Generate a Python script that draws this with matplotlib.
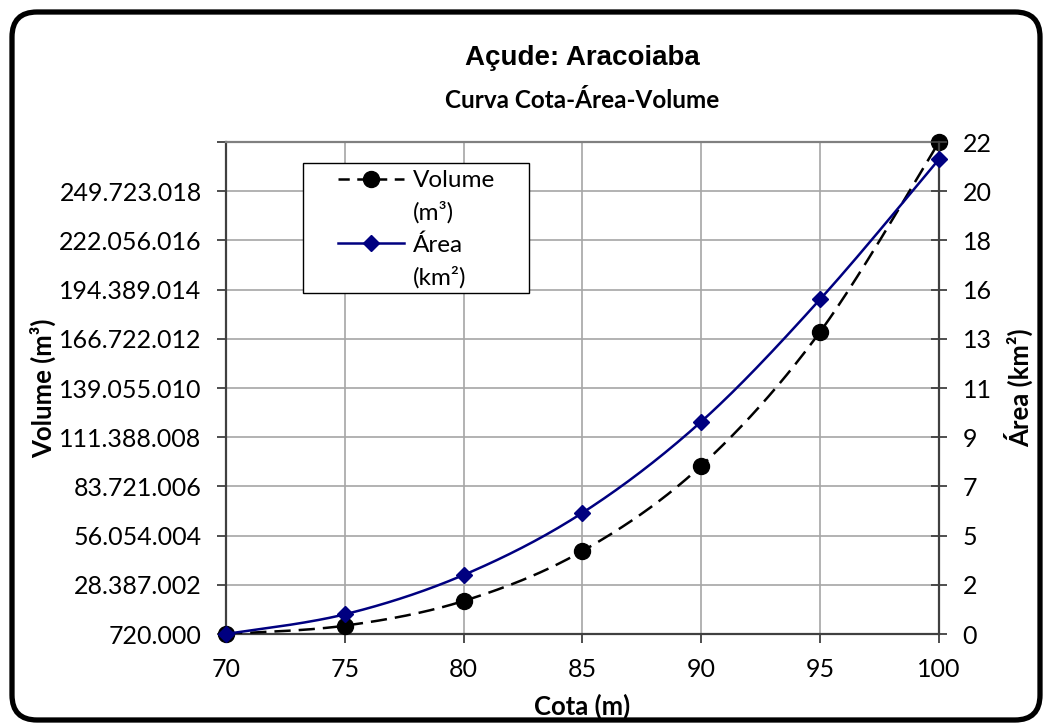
import numpy as np
import matplotlib
matplotlib.use("Agg")
import matplotlib.pyplot as plt
from matplotlib.lines import Line2D
from matplotlib.patches import FancyBboxPatch, Rectangle
from matplotlib.transforms import IdentityTransform
from matplotlib.ticker import FixedLocator, FuncFormatter

plt.rcParams['font.family'] = ['Lato', 'DejaVu Sans']

# dados da curva cota-área-volume
cota = [70, 75, 80, 85, 90, 95, 100]
volume = [720000, 5400000, 19300000, 47400000, 95400000, 170700000, 277390020]
area = [0.2, 1.08, 2.84, 5.62, 9.70, 15.17, 21.43]

vol_lim = (720000, 277390020)
area_lim = (0.2, 22.2)

W, H = 1045, 724
fig = plt.figure(figsize=(W / 100, H / 100), dpi=100)
fig.patch.set_facecolor('white')


def px(x, y):
    # pixel (origem no topo) -> fração da figura
    return x / W, 1 - y / H


def suaviza(x, y, n=40):
    # bezier suavizada passando pelos pontos (linha suavizada)
    x = np.asarray(x, float)
    y = np.asarray(y, float)
    P = np.column_stack([x, y])
    Q = np.vstack([P[0], P, P[-1]])
    t = np.linspace(0, 1, n)[:, None]
    out = []
    for i in range(len(P) - 1):
        p0, p3 = P[i], P[i + 1]
        c1 = p0 + (p3 - Q[i]) / 6
        c2 = p3 - (Q[i + 3] - p0) / 6
        seg = ((1 - t) ** 3) * p0 + 3 * ((1 - t) ** 2) * t * c1 + 3 * (1 - t) * t ** 2 * c2 + t ** 3 * p3
        out.append(seg if i == 0 else seg[1:])
    s = np.vstack(out)
    return s[:, 0], s[:, 1]


x0, y0 = px(226, 634)
x1, y1 = px(939, 142)
ax = fig.add_axes([x0, y0, x1 - x0, y1 - y0])
ax2 = ax.twinx()

axis_col = '#404040'
grid_col = '#a6a6a6'
tick_fs = 18

# volume (eixo principal)
vx, vy = suaviza(cota, volume)
ax.plot(vx, vy, color='black', lw=1.8, linestyle=(0, (6.5, 3.2)), zorder=3)
ax.plot(cota, volume, 'o', color='black', ms=11.5, zorder=4, clip_on=False)
ax.set_xlim(70, 100)
ax.set_ylim(*vol_lim)

vticks = np.linspace(vol_lim[0], vol_lim[1], 11)
ax.yaxis.set_major_locator(FixedLocator(vticks))


def fmt_vol(v, pos):
    if v > vticks[-2] + 1:
        return ''
    return f"{v:,.0f}".replace(',', '.')


ax.yaxis.set_major_formatter(FuncFormatter(fmt_vol))
ax.set_xticks(cota)
ax.grid(True, color=grid_col, lw=1.2)
ax.set_axisbelow(True)
ax.tick_params(axis='both', labelsize=tick_fs, colors='black', pad=11)
ax.tick_params(axis='both', direction='out', length=6.5, width=1.3, color=axis_col)
for s in ['left', 'bottom']:
    ax.spines[s].set_color(axis_col)
    ax.spines[s].set_linewidth(1.6)
ax.spines['top'].set_color('#808080')
ax.spines['top'].set_linewidth(1.6)
ax.spines['right'].set_visible(False)

# área (eixo secundário)
ax_, ay_ = suaviza(cota, area)
ax2.plot(ax_, ay_, color='#000080', lw=1.8, zorder=3)
ax2.plot(cota, area, 'D', color='#000080', ms=8, zorder=4, clip_on=False)
ax2.set_ylim(*area_lim)
ax2.yaxis.set_major_locator(FixedLocator(np.linspace(area_lim[0], area_lim[1], 11)))
ax2.yaxis.set_major_formatter(FuncFormatter(lambda v, p: f"{v:.0f}"))
ax2.tick_params(axis='y', labelsize=tick_fs, colors='black', pad=11,
                direction='inout', length=12, width=1.3, color=axis_col)
ax2.spines['right'].set_color(axis_col)
ax2.spines['right'].set_linewidth(1.6)
for s in ['left', 'bottom', 'top']:
    ax2.spines[s].set_visible(False)

# títulos e rótulos
fig.text(*px(582, 58), 'Açude: Aracoiaba', ha='center', va='center',
         fontsize=20, fontweight='bold', family='Liberation Sans')
fig.text(*px(582, 100), 'Curva Cota-Área-Volume', ha='center', va='center',
         fontsize=17.5, fontweight='bold')
fig.text(*px(582, 706), 'Cota (m)', ha='center', va='center',
         fontsize=18.5, fontweight='bold')
fig.text(*px(43, 388), 'Volume (m³)', ha='center', va='center', rotation=90,
         fontsize=18.5, fontweight='bold')
fig.text(*px(1019, 388), 'Área (km²)', ha='center', va='center', rotation=90,
         fontsize=18.5, fontweight='bold')

# legenda
fig.add_artist(Rectangle((303, H - 293), 226, 130, transform=IdentityTransform(),
                         facecolor='white', edgecolor='black', lw=1.0, zorder=5))
vazio = Line2D([], [], linestyle='none', marker=None)
handles = [
    Line2D([], [], color='black', lw=1.8, linestyle=(0, (4.5, 3)), marker='o', ms=11.5),
    vazio,
    Line2D([], [], color='#000080', lw=1.8, marker='D', ms=8),
    vazio,
]
labels = ['Volume', '(m³)', 'Área', '(km²)']
leg = fig.legend(handles, labels, loc='upper left', bbox_to_anchor=px(338, 170),
                 frameon=False, fontsize=17.5, handlelength=2.7, handletextpad=0.4,
                 labelspacing=0.43, borderpad=0, borderaxespad=0)
leg.set_zorder(6)

# moldura arredondada da área do gráfico
fig.add_artist(FancyBboxPatch((12, 4), 1028, 708, boxstyle='round,pad=0,rounding_size=25',
                              transform=IdentityTransform(), facecolor='none',
                              edgecolor='black', lw=3.8, zorder=10))

fig.savefig('out.png', dpi=100)
